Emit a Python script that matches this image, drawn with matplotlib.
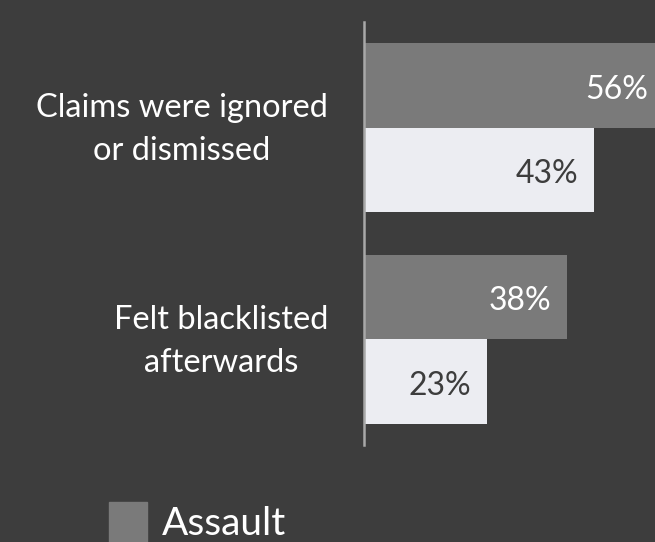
import numpy as np
import matplotlib.pyplot as plt
from matplotlib.patches import Patch

plt.rcParams['font.family'] = ['Lato', 'DejaVu Sans']

# Data
categories = ['Claims were ignored\nor dismissed', 'Felt blacklisted\nafterwards']
assault = [56, 38]
other = [43, 23]

bg = '#3d3d3d'
c_assault = '#7a7a7a'
c_other = '#ecedf2'

fig = plt.figure(figsize=(6.55, 5.42), dpi=100, facecolor=bg)
# axes placed so the zero line sits at x=364px, span 22px..445px from top
ax = fig.add_axes([364/655, (542-445)/542, (655-364)/655, (445-22)/542])
ax.set_facecolor(bg)

y = np.arange(len(categories))
h = 0.4
b1 = ax.barh(y - h/2, assault, height=h, color=c_assault)
b2 = ax.barh(y + h/2, other, height=h, color=c_other)

ax.set_xlim(0, (655-364)/5.34)
ax.set_ylim(1.5, -0.5)

# value labels, right aligned inside the bar end
for vals, ys, col in [(assault, y - h/2, 'white'), (other, y + h/2, bg)]:
    for v, yy in zip(vals, ys):
        ax.annotate(f'{v}%', xy=(v, yy), xytext=(-11, -3), textcoords='offset points',
                    ha='right', va='center', fontsize=23, color=col,
                    annotation_clip=False)

# category labels, centred lines left of the axis
for cat, yy in zip(categories, y):
    ax.annotate(cat, xy=(0, yy), xytext=(-26, -1.5), textcoords='offset points',
                ha='right', va='center', ma='center', linespacing=1.55,
                fontsize=23.5, color='white', annotation_clip=False)

ax.set_xticks([])
ax.set_yticks([])

for s in ['top', 'right', 'bottom']:
    ax.spines[s].set_visible(False)
ax.spines['left'].set_color('#a8a8a8')
ax.spines['left'].set_linewidth(1.8)

leg = fig.legend(handles=[Patch(color=c_assault, label='Assault')],
                 loc='upper left', bbox_to_anchor=(109/655, (542-502)/542),
                 frameon=False, fontsize=28, labelcolor='white',
                 handlelength=0.97, handleheight=1.2, handletextpad=0.4,
                 borderpad=0, borderaxespad=0)

fig.savefig('out.png', dpi=100, facecolor=bg)
